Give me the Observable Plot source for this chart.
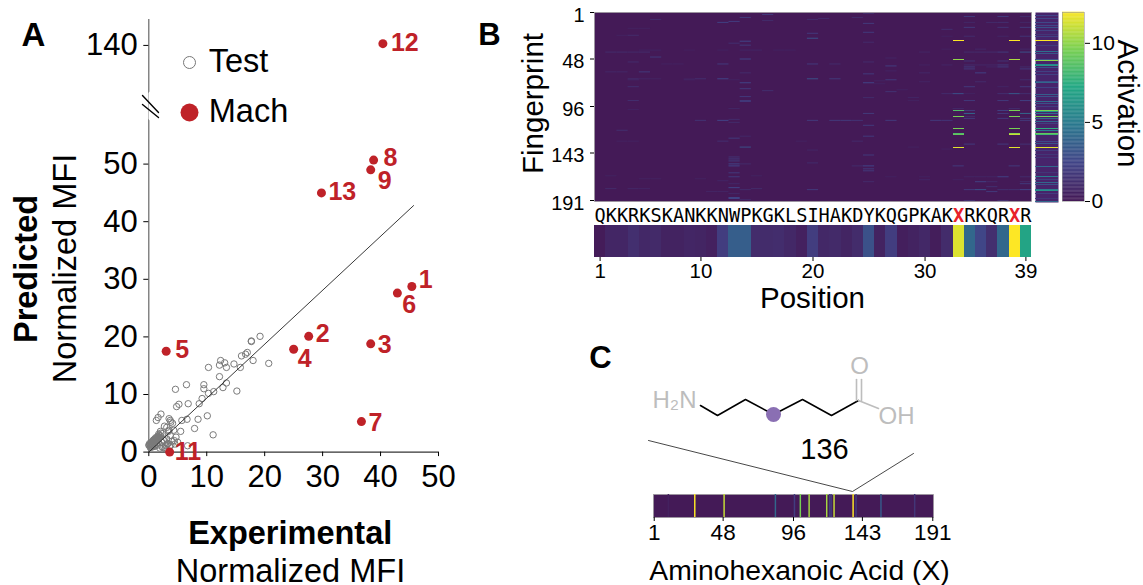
<!DOCTYPE html>
<html><head><meta charset="utf-8">
<script src="https://cdn.jsdelivr.net/npm/d3@7"></script>
<script src="https://cdn.jsdelivr.net/npm/@observablehq/plot@0.6"></script>
<style>
html,body{margin:0;padding:0;background:#fff;width:1143px;height:585px;overflow:hidden}
#root{position:relative;width:1143px;height:585px}
#root>svg,#root>figure{position:absolute;margin:0}
</style></head><body><div id="root"></div>
<script>
const FONT = '"Liberation Sans", Arial, sans-serif';
const RED = "#bf2228";

// ---- Panel A data
const testX = [20.7,17.7,19.2,17.7,17,16.7,16,18,15.8,14.7,13.4,13.1,12.4,12.2,10.3,12.2,13.4,12.8,15.2,11.2,10.3,9.5,9.5,6.5,4.6,9.2,8.7,6.8,5.2,4.8,10.1,8.5,7.9,6.6,5.7,5.5,11.1,2.1,1.6,1.3,3.5,3.7,3.8,4.1,2.7,3.1,2,3.4,4.3,2.4,3.7,4.7,4.4,3.2,3.8,6.7,5,2.7,1.8,
  0,0.1,0.2,0.3,0.4,0.5,0.6,0.7,0.8,0.9,1,1.1,1.2,1.3,1.4,1.5,1.6,1.7,1.8,2,0.4,0.7,1,1.3,1.6,0.8,1.2,1.7,2.2,2.5,2.9,3.1,3.3,3.5,2.6,3,4,4.5,2.3,2.1,1.9,2.8,3.6,
  0.15,0.35,0.55,0.75,0.95,1.15,1.35,1.55,1.75,0.25,0.65,1.05,1.45];
const testY = [15.4,19.2,20.1,19.3,17.3,17,16.7,15.9,14.7,15.3,14.7,15.5,15.9,15.1,14.7,13.1,12,11.2,10.6,10.5,10.2,11.7,11,11.7,10.9,9.3,8.4,8.4,8.3,7.9,6.3,5.7,4.1,5.7,5.5,3.6,3,6.6,6,5.5,5.8,5.5,5.2,5,4.5,4.3,3.6,3.6,3.8,3.2,2.9,2.6,2,1.4,1.2,1.1,1.7,2,2.6,
  1.2,1.2,1.3,1.3,1.4,1.5,1.5,1.6,1.7,1.8,1.9,2,2,2.1,2.2,2.3,2.4,2.5,2.6,2.8,0.9,1.1,1.2,1.4,1.6,2.1,2.5,3.1,1.7,2.1,1.1,2.3,1.5,3.8,0.8,1.2,1.9,1.4,0.9,3.3,0.7,0.6,1,
  1.5,1.6,1.8,1.9,2.2,2.3,2.5,2.7,2.9,0.8,0.9,1,1.2];
const machIds = ["1","2","3","4","5","6","7","8","9","11","12","13"];
const machX = [45.4,27.6,38.3,25,3,42.9,36.7,38.8,38.3,3.6,40.4,29.8];
const machY = [28.75,20.1,18.8,17.85,17.5,27.6,5.3,50.7,49,0,140.3,45];
const fitX = [0,45.7];
const fitY = [0,42.8];
const xTicksA = [0,10,20,30,40,50];
const yTicksA = [0,10,20,30,40,50,140];

// ---- Panel B data
const sequence = "QKKRKSKANKKNWPKGKLSIHAKDYKQGPKAKXRKQRXR".split("");
const positions = d3.range(1,40);
const positionValues = [0.1,0.7,0.7,1.2,0.8,0.9,0.5,0.5,0.7,0.6,0.4,2,3.6,3.6,1,1,1.1,0.8,0.4,2,0.8,0.9,0.6,1,3,0.5,2,0.3,0.5,0.8,0.2,1,11.4,4,2.5,1.2,4,12,7];
const positionTicks = [1,10,20,30,39];
const fingerprintTicks = [1,48,96,143,191];
const heatCells = [
[2,25,1],[3,16,1.8],[6,24,1],[6,14,1.8],[8,6,1],[8,20,1],[7,21,1],[9,16,1],[10,13,2],[11,12,2.2],[12,25,1.8],[17,4,.5],[17,5,.5],[21,25,1.8],[22,20,1.8],[24,3,.5],[24,4,1],[27,20,3],[30,14,2.4],[31,25,1],[32,13,1.2],[34,14,1.8],
[39,5,.5],[39,6,.6],[39,9,.4],[39,12,.5],[39,14,.7],[39,15,.7],[39,17,.5],[39,18,.5],[41,2,1],[41,3,1],[41,4,.9],[41,5,1],[46,6,1.8],[48,14,2.4],[51,4,1],[51,25,1],[53,7,.5],[53,8,.5],[53,12,1.8],[53,20,1.8],[53,22,1],[61,2,.8],[61,3,.8],[61,5,1.8],[62,14,1],[63,25,1.8],
[68,4,1],[68,5,.7],[68,6,.6],[68,9,.5],[68,10,1.2],[68,12,2.4],[68,20,3],[68,22,1.8],[69,4,.8],[69,9,.7],[69,13,.5],[72,14,2.4],[72,25,2.4],[76,4,1.2],[78,14,1.8],[80,16,1.2],[86,14,1.8],[87,25,1],[90,4,1.2],[90,14,1.8],[91,14,1.8],[98,13,.7],[99,4,.5],[103,25,1.8],
[109,13,1],[110,10,1.4],[110,12,2.4],[110,20,1.8],[110,22,1.8],[110,23,1.8],[110,24,1.5],[112,13,1],[115,25,1.8],[120,3,1.2],[126,14,.8],[126,25,1.8],[128,13,1.8],[131,3,.5],[131,4,.5],[131,12,1.2],[131,19,.5],[131,24,1],[137,14,3],[140,20,.7],[145,25,1.8],
[147,13,1.4],[149,13,1.8],[151,13,1.8],[153,20,1],[154,14,1],[154,13,2.4],[156,13,2.4],[156,24,1],[156,25,2.4],[159,25,1.8],[161,25,1.8],[163,13,1.8],[167,13,1.8],[166,2,.5],[166,15,.5],[169,5,.5],[169,6,.5],[169,10,.5],[171,12,.7],[172,25,1],[174,13,.8],[178,13,2.4],[179,2,1],[179,4,.8],[179,5,.7],[179,15,1],[180,14,1],[180,20,1.8],[182,11,.7],[182,12,.7],[184,13,.8],[188,13,2.4],[189,13,2.4],[190,14,.8],
[47,27,.7],[55,27,2],[60,27,.6],[69,27,1.8],[73,26,.5],[70,26,.5],[81,27,1.4],[79,28,.5],[87,29,.7],[90,29,.5],[110,27,1.8],[137,29,.5],[167,27,.5],
[29,33,12],[29,38,12],[5,34,1.8],[5,37,1.8],[5,39,1],[11,34,.8],[11,36,1],[11,37,1.2],[11,39,.8],[16,34,1.8],[16,37,1.4],[16,39,1.8],[18,32,1.2],[25,34,1],[25,37,.7],[25,39,1.5],[25,32,.5],[38,32,.5],[38,35,.8],[38,39,.8],[41,30,.7],[41,34,1],[41,35,1],[41,36,1],[41,37,1.8],[41,39,3],
[49,33,10],[49,38,10.5],[50,34,1.4],[50,37,1.4],[54,30,.5],[54,32,.7],[54,34,1],[54,35,.8],[54,36,.8],[54,37,1.8],[56,34,1.8],[56,36,.7],[56,37,1.8],[56,39,1],[58,34,1.8],[58,39,1.8],[62,35,2.2],[62,30,.8],[69,39,1],[71,35,1],[71,30,.6],[76,34,1.8],[76,37,.7],[76,39,1.8],
[83,32,1],[83,33,3],[83,34,.5],[83,37,1.2],[83,38,3.4],[83,39,1.2],[90,34,1.8],[90,37,1.8],[90,39,2.2],[98,33,.8],[98,38,1],[100,33,8.5],[100,34,1.8],[100,37,2.2],[100,38,9.5],[103,34,4],[103,37,1.8],[103,39,4],[106,33,9.5],[106,38,9.5],[106,34,1],[108,34,1.8],[108,37,1.8],[108,39,1.8],[110,31,1.8],[110,32,1.6],[110,39,1.8],
[118,33,9.5],[118,38,9.5],[123,33,8.5],[123,38,10],[124,33,9],[124,38,11],[134,34,1.8],[134,37,1.8],[134,39,1.4],[137,33,11.5],[137,38,11.5],[139,32,.5],[156,33,1.8],[156,38,1.8],[167,30,.5],[167,34,.7],[167,35,.7],[167,36,.7],[167,37,2.2],[167,39,1],[170,30,.7],[170,33,.5],[172,35,2.2],[172,36,1],[172,39,1],[174,39,1.8],[177,36,1.2],[180,34,1.8],[180,35,3],[180,37,1.2],[180,38,1.2],[180,39,2.4],[182,36,1.8],[191,34,1.2],[191,37,1.2]
];
const sideRows = [4,7,11,14,16,19,23,25,29,34,40,42,48,49,53,54,56,60,63,70,71,76,83,85,90,92,95,100,101,103,106,108,111,113,118,120,123,124,131,133,137,140,144,147,156,162,166,169,172,174,179,180,183,188,191];
const sideValues = [2.4,2.4,2.6,2.5,3,2.2,1.6,2.2,12,1.8,4.4,3.2,3,10,5.5,6.2,3,2.2,2.2,3,4,2.2,3.6,3,4.2,3,2,9.5,6,4.4,9.5,4,4,2,7.5,5,9,8,2.6,3.2,11.5,2,1.6,1.6,4,1.6,5,2,4,3,5,6,2,1.6,4];
const colorStops = [0,2.4,4.8,7.2,9.6,12];
const colorRamp = ["#441a57","#414487","#2a788e","#22a884","#7ad151","#fde725"];
const colorbarTicks = [0,5,10];
const colorbarMax = 11.95;

// ---- Panel C data
const acidRows = d3.range(1,192);
const acidStripeRows = [11,29,49,84,97,101,107,119,121,122,124,137,139,156,179];
const acidStripeValues = [.4,12,11,4,2,9.5,10.4,10.4,2,2,11,12,2,3.4,1.6];
const acidTicks = [1,48,96,143,191];

const colorScale = {type:"linear",domain:colorStops,range:colorRamp};
const root = document.getElementById("root");
function place(el,left,top){ el.style.left=left+"px"; el.style.top=top+"px"; el.style.maxWidth="none"; root.appendChild(el); }
const base = {style:{fontFamily:FONT,background:"transparent",color:"#000",overflow:"visible"}};

// Panel A
const testPts = testX.map((x,i)=>({x,y:testY[i]}));
const machPts = machX.map((x,i)=>({x,y:machY[i],id:machIds[i]}));
const labelOffset = {"1":[7,-7],"2":[7,-2],"3":[7,1],"4":[4,10],"5":[9,-1],"6":[5,12],"7":[7,1],"8":[10,-2],"9":[7,11],"11":[5,0],"12":[8,-1],"13":[7,-1]};
place(Plot.plot({...base,width:470,height:585,marginLeft:148.3,marginRight:32,marginTop:19,marginBottom:133.4,
  x:{domain:[0,50],axis:null},
  y:{type:"linear",domain:[0,60,130,144.5],range:[451.6,106,102.5,19],axis:null},
  marks:[
    Plot.ruleX([0],{y1:0,y2:144.5,stroke:"#666",strokeWidth:1.2}),
    Plot.ruleY([0],{x1:0,x2:50,stroke:"#000",strokeWidth:1}),
    Plot.axisX({ticks:xTicksA,tickSize:4.5,tickPadding:8.5,fontSize:31,label:null,anchor:"bottom"}),
    Plot.axisY({ticks:yTicksA,tickSize:5,tickPadding:6,fontSize:31,label:null,anchor:"left"}),
    Plot.dot(testPts,{x:"x",y:"y",r:3.2,stroke:"#7a7a7a",strokeWidth:1,fill:"none"}),
    Plot.line(fitX.map((x,i)=>({x,y:fitY[i]})),{x:"x",y:"y",stroke:"#222",strokeWidth:0.9}),
    Plot.dot(machPts,{x:"x",y:"y",r:4.5,fill:RED}),
    ...machPts.map(d=>Plot.text([d],{x:"x",y:"y",text:"id",textAnchor:"start",fontSize:25,fontWeight:"bold",fill:RED,dx:labelOffset[d.id][0],dy:labelOffset[d.id][1]}))
  ]}),0,0);

// Panel B heat map
const heatData = heatCells.map(([row,col,v])=>({row,col,v}));
const heatRect = {x1:d=>d.col-.5,x2:d=>d.col+.5,y1:"row",y2:d=>d.row+1,fill:"v"};
place(Plot.plot({...base,width:532,height:206,marginLeft:84,marginRight:11,marginTop:12,marginBottom:5,
  x:{domain:[0.5,39.5],axis:null},
  y:{domain:[1,192],reverse:true,axis:null},
  color:colorScale,
  marks:[
    Plot.frame({fill:colorRamp[0],stroke:"#999",strokeWidth:0.6}),
    Plot.rect(heatData.filter(d=>d.v<5),heatRect),
    Plot.rect(heatData.filter(d=>d.v>=5),{...heatRect,shapeRendering:"crispEdges"}),
    Plot.axisY({ticks:fingerprintTicks,tickSize:4,fill:"none",label:null}),
    Plot.axisY({ticks:fingerprintTicks,tickSize:0,tickPadding:10,dy:3,fontSize:20,label:null})
  ]}),510,0);

// Side column
place(Plot.plot({...base,width:23,height:190,margin:0,
  x:{domain:[0,1],axis:null},y:{domain:[1,192],reverse:true,axis:null},color:colorScale,
  marks:[
    Plot.frame({fill:"#47246b"}),
    Plot.rect(sideRows.map((r,i)=>({r,v:sideValues[i]})),{y1:"r",y2:d=>d.r+1,fill:"v",shapeRendering:"crispEdges"})
  ]}),1035,12);

// Colour bar
const barSteps = d3.range(0,colorbarMax,0.05);
place(Plot.plot({...base,width:62,height:189,marginLeft:0,marginRight:40,marginTop:0,marginBottom:0,
  x:{axis:null},y:{domain:[0,colorbarMax],axis:null},color:colorScale,
  marks:[
    Plot.rect(barSteps,{y1:d=>d,y2:d=>d+0.07,fill:d=>d}),
    Plot.frame({stroke:"#999",strokeWidth:0.6}),
    Plot.axisY({anchor:"right",ticks:colorbarTicks,tickSize:5,tickPadding:2,fontSize:21,label:null})
  ]}),1062,12);

// Position strip
const seqData = sequence.map((s,i)=>({s,p:i+1}));
const posData = positions.map((p,i)=>({p,v:positionValues[i]}));
const seqFont = {x:"p",text:"s",frameAnchor:"top",lineAnchor:"middle",dy:-9.5,fontFamily:'"DejaVu Sans Mono",monospace',fontSize:18.6};
place(Plot.plot({...base,width:465,height:85,marginLeft:14,marginRight:14,marginTop:20,marginBottom:33,
  x:{type:"band",domain:positions,padding:0,round:false,axis:null},
  y:{axis:null},color:colorScale,
  marks:[
    Plot.cell(posData,{x:"p",fill:"v",shapeRendering:"crispEdges"}),
    Plot.text(seqData.filter(d=>d.s!=="X"),{...seqFont,fill:"#000"}),
    Plot.text(seqData.filter(d=>d.s==="X"),{...seqFont,fontWeight:"bold",fill:"#e8222a"}),
    Plot.axisX({ticks:positionTicks,tickSize:4,tickPadding:2,fontSize:20.5,label:null})
  ]}),580,205);

// Panel C strip
place(Plot.plot({...base,width:310,height:56,marginLeft:13,marginRight:17,marginTop:9,marginBottom:24,
  x:{type:"band",domain:acidRows,padding:0,round:false,axis:null},
  y:{axis:null},color:colorScale,
  marks:[
    Plot.frame({fill:colorRamp[0],stroke:"#999",strokeWidth:0.6}),
    Plot.cell(acidStripeRows.map((r,i)=>({r,v:acidStripeValues[i]})),{x:"r",fill:"v"}),
    Plot.axisX({ticks:acidTicks,tickSize:4,tickPadding:3,fontSize:22.5,label:null})
  ]}),640,485);

// Annotation layer: labels, legend, molecule and connector lines
const texts = [
 {t:"A",x:33,y:35,s:33,w:"bold"},{t:"B",x:489,y:35,s:31,w:"bold"},{t:"C",x:600,y:358,s:31,w:"bold"},
 {t:"Predicted",x:26,y:268.5,s:32.5,w:"bold",r:-90},{t:"Normalized MFI",x:65.5,y:268,s:32.5,r:-90},
 {t:"Experimental",x:289.7,y:533.5,s:32.5,w:"bold"},{t:"Normalized MFI",x:290,y:571,s:32.5},
 {t:"Test",x:238,y:61,s:32.5},{t:"Mach",x:248,y:111,s:32.5},
 {t:"Fingerprint",x:533.5,y:103,s:29.5,r:-90},{t:"Activation",x:1127,y:103,s:29.5,r:90},
 {t:"Position",x:812,y:298,s:29.5},{t:"136",x:824,y:449,s:29},
 {t:"Aminohexanoic Acid (X)",x:799,y:570,s:28.3}
];
const greys = [{t:"H₂N",x:674,y:400,s:24},{t:"O",x:859,y:366,s:24},{t:"OH",x:896,y:416,s:24}];
const seg = (pts,o)=>Plot.line(pts.map(([x,y])=>({x,y})),{x:"x",y:"y",...o});
const overlay = Plot.plot({...base,width:1143,height:585,margin:0,
  x:{type:"identity",axis:null},y:{type:"identity",axis:null},
  marks:[
    ...texts.map(d=>Plot.text([d],{x:"x",y:"y",text:"t",fontSize:d.s,fontWeight:d.w||"normal",rotate:d.r||0,fill:"#000"})),
    ...greys.map(d=>Plot.text([d],{x:"x",y:"y",text:"t",fontSize:d.s,fill:"#bdbdbd"})),
    Plot.dot([[189,62]],{x:"0",y:"1",r:6,stroke:"#777",strokeWidth:1,fill:"none"}),
    Plot.dot([[189,112]],{x:"0",y:"1",r:9,fill:RED}),
    seg([[150,93],[150,118]],{stroke:"#fff",strokeWidth:4}),
    seg([[142,95],[158,112]],{stroke:"#000",strokeWidth:1.4}),
    seg([[142,104],[158,117]],{stroke:"#000",strokeWidth:1.4}),
    seg([[700,405],[717,415],[745,399],[773,414],[802,399],[831,415],[858,400]],{stroke:"#000",strokeWidth:1.6,strokeLinejoin:"miter"}),
    seg([[858,400],[878,408]],{stroke:"#bdbdbd",strokeWidth:1.6}),
    seg([[856,400],[856,379]],{stroke:"#bdbdbd",strokeWidth:1.6}),
    seg([[861,400],[861,379]],{stroke:"#bdbdbd",strokeWidth:1.6}),
    Plot.dot([[773,414]],{x:"0",y:"1",r:7.5,fill:"#8a6fb3"}),
    seg([[648,440],[852,491],[913,453]],{stroke:"#333",strokeWidth:0.9})
  ]});
overlay.style.pointerEvents="none";
place(overlay,0,0);
</script></body></html>
